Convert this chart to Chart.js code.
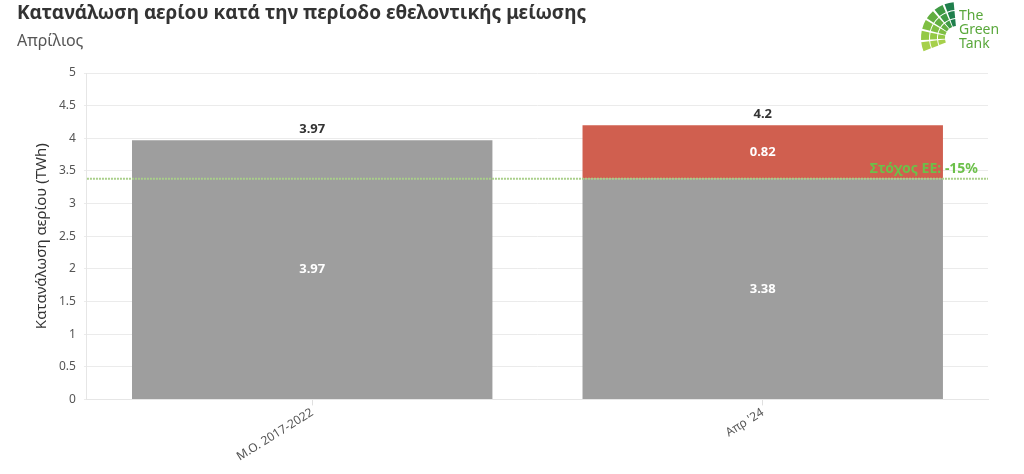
<!DOCTYPE html>
<html>
<head>
<meta charset="utf-8">
<script src="https://cdn.jsdelivr.net/npm/chart.js@4"></script>
<style>
  html, body { margin: 0; padding: 0; background: #fff; }
  #wrap { width: 1024px; height: 474px; position: relative; }
</style>
</head>
<body>
<div id="wrap"><canvas id="myChart"></canvas></div>
<script>
const categories = ["Μ.Ο. 2017-2022", "Απρ '24"];
const baseValues = [3.97, 3.38];
const excessValues = [null, 0.82];
const totals = [3.97, 4.2];
const targetValue = 3.38;
const targetLabel = "Στόχος ΕΕ: -15%";
const yTicks = [0, 0.5, 1, 1.5, 2, 2.5, 3, 3.5, 4, 4.5, 5];

const FONT = "'Noto Sans', 'Open Sans', sans-serif";

// value labels inside bars + totals above
const barLabels = {
  id: "barLabels",
  afterDatasetsDraw(chart) {
    const ctx = chart.ctx;
    ctx.save();
    ctx.textAlign = "center";
    ctx.textBaseline = "middle";
    ctx.font = "bold 13px " + FONT;
    chart.data.datasets.forEach((ds, i) => {
      const meta = chart.getDatasetMeta(i);
      meta.data.forEach((bar, j) => {
        const v = ds.data[j];
        if (v == null) return;
        const mid = (bar.y + bar.base) / 2;
        ctx.fillStyle = "#ffffff";
        ctx.fillText(String(v), bar.x, mid);
      });
    });
    const y = chart.scales.y;
    const x = chart.scales.x;
    ctx.fillStyle = "#333333";
    totals.forEach((t, j) => {
      ctx.fillText(String(t), x.getPixelForValue(j), y.getPixelForValue(t) - 11);
    });
    ctx.restore();
  }
};

// dotted target line
const targetLine = {
  id: "targetLine",
  afterDatasetsDraw(chart) {
    const ctx = chart.ctx;
    const area = chart.chartArea;
    const py = chart.scales.y.getPixelForValue(targetValue);
    ctx.save();
    ctx.strokeStyle = "#a9cf8a";
    ctx.lineWidth = 2;
    ctx.setLineDash([2, 1]);
    ctx.beginPath();
    ctx.moveTo(area.left, py);
    ctx.lineTo(area.right, py);
    ctx.stroke();
    ctx.setLineDash([]);
    ctx.font = "bold 14px " + FONT;
    ctx.fillStyle = "#6cc04a";
    ctx.textAlign = "right";
    ctx.textBaseline = "bottom";
    ctx.fillText(targetLabel, area.right - 10, py - 3);
    ctx.restore();
  }
};

// small logo top right
const logo = {
  id: "logo",
  afterDraw(chart) {
    const ctx = chart.ctx;
    ctx.save();
    const cx = 957, cy = 38;
    const rings = [[12, 19], [20, 27], [28, 36]];
    const a0 = 0.87 * Math.PI, a1 = 1.48 * Math.PI, n = 6, gap = 0.06;
    const shades = ["#a6d04a", "#94c945", "#7fbf42", "#62ae40", "#3f9a44", "#1f7f4c"];
    rings.forEach(([r0, r1]) => {
      for (let k = 0; k < n; k++) {
        const s = a0 + (a1 - a0) * k / n + gap / 2;
        const e = a0 + (a1 - a0) * (k + 1) / n - gap / 2;
        ctx.beginPath();
        ctx.arc(cx, cy, r1, s, e);
        ctx.arc(cx, cy, r0, e, s, true);
        ctx.closePath();
        ctx.fillStyle = shades[k];
        ctx.fill();
      }
    });
    ctx.fillStyle = "#5aa83c";
    ctx.font = "14px " + FONT;
    ctx.textAlign = "left";
    ctx.textBaseline = "alphabetic";
    ctx.fillText("The", 959, 20);
    ctx.fillText("Green", 959, 34);
    ctx.fillText("Tank", 959, 48);
    ctx.restore();
  }
};

const data = {
  labels: categories,
  datasets: [
    {
      label: "Κατανάλωση",
      data: baseValues,
      backgroundColor: "#9e9e9e",
      barPercentage: 0.8,
      categoryPercentage: 1.0,
    },
    {
      label: "Υπέρβαση",
      data: excessValues,
      backgroundColor: "#d05f4f",
      barPercentage: 0.8,
      categoryPercentage: 1.0,
    },
  ],
};

const config = {
  type: "bar",
  data,
  options: {
    responsive: true,
    maintainAspectRatio: false,
    animation: false,
    layout: { padding: { left: 17, right: 36, top: 0, bottom: 10 } },
    scales: {
      x: {
        stacked: true,
        grid: {
          offset: false,
          drawOnChartArea: false,
          drawTicks: true,
          tickLength: 6,
          color: "#e0e0e0",
        },
        border: { color: "#e6e6e6" },
        ticks: {
          minRotation: 32,
          maxRotation: 32,
          padding: 0,
          color: "#555",
          font: { family: FONT, size: 12 },
        },
      },
      y: {
        stacked: true,
        min: 0,
        max: 5,
        afterBuildTicks(axis) {
          axis.ticks = yTicks.map(v => ({ value: v }));
        },
        grid: { color: "#ebebeb", tickLength: 3 },
        border: { color: "#e6e6e6" },
        ticks: {
          padding: 8,
          color: "#555",
          font: { family: FONT, size: 12 },
          callback: v => String(v),
        },
        title: {
          display: true,
          text: "Κατανάλωση αερίου (TWh)",
          color: "#333",
          font: { family: FONT, size: 15 },
          padding: { top: 16, bottom: 0 },
        },
      },
    },
    plugins: {
      legend: { display: false },
      tooltip: { enabled: false },
      title: {
        display: true,
        text: "Κατανάλωση αερίου κατά την περίοδο εθελοντικής μείωσης",
        align: "start",
        color: "#333",
        font: { family: FONT, size: 19, weight: "bold" },
        padding: { top: 2, bottom: 2 },
      },
      subtitle: {
        display: true,
        text: "Απρίλιος",
        align: "start",
        color: "#555",
        font: { family: FONT, size: 16 },
        padding: { top: 5, bottom: 22 },
      },
    },
  },
  plugins: [barLabels, targetLine, logo],
};

new Chart(document.getElementById("myChart").getContext("2d"), config);
</script>
</body>
</html>
